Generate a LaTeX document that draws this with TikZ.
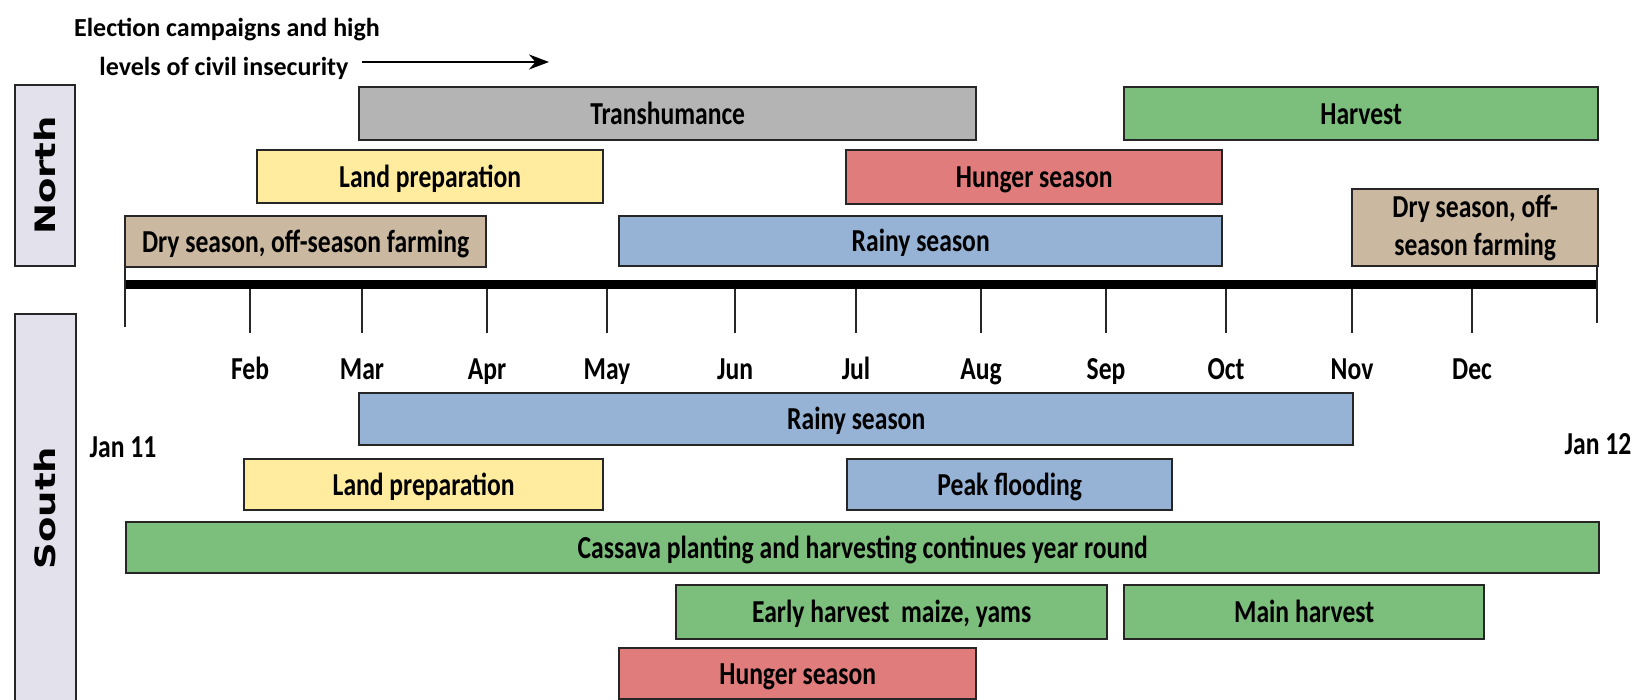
\documentclass[tikz,border=0pt]{standalone}
\usepackage{fontspec}
\setmainfont{Carlito}
\newfontfamily\regfont{DejaVu Sans}
\usetikzlibrary{arrows.meta}
\definecolor{cgray}{RGB}{180,180,180}
\definecolor{cgreen}{RGB}{124,190,124}
\definecolor{cyellow}{RGB}{255,236,158}
\definecolor{cred}{RGB}{224,124,124}
\definecolor{cblue}{RGB}{150,178,212}
\definecolor{ctan}{RGB}{202,184,160}
\definecolor{clav}{RGB}{226,225,236}
\newcommand\sq[1]{\scalebox{0.8}[1]{#1}}
\begin{document}
\begin{tikzpicture}[x=1pt,y=-1pt,
  bar/.style={draw=black!85, line width=2.4pt, rectangle, anchor=north west, inner sep=0pt,
    align=center, text height=21pt, text depth=0pt,
    font=\fontsize{32}{35}\selectfont\bfseries},
  bartwo/.style={draw=black!85, line width=2.4pt, rectangle, anchor=north west, inner sep=0pt,
    align=center, font=\fontsize{32}{38}\selectfont\bfseries},
  mon/.style={anchor=base, inner sep=0pt, font=\fontsize{32}{35}\selectfont\bfseries},
  tick/.style={line width=2pt, black!85},
  regbox/.style={draw=black!85, line width=2.4pt, fill=clav, inner sep=0pt,
    font=\fontsize{37}{37}\selectfont\regfont\bfseries},
  elect/.style={anchor=base, inner sep=0pt, font=\fontsize{26}{30}\selectfont\bfseries}
]
\useasboundingbox (0,0) rectangle (1634,700);

% region labels
\node[regbox, minimum width=60pt, minimum height=181pt] (north) at (45,175.5)
  {\rotatebox{90}{\scalebox{1}[0.76]{North}}};
\node[regbox, minimum width=61pt, minimum height=388pt] (southbox) at (45.5,508) {};
\node[inner sep=0pt, font=\fontsize{37}{37}\selectfont\regfont\bfseries] (south) at (45.5,508)
  {\rotatebox{90}{\scalebox{1}[0.76]{South}}};

% election note
\node[elect] (el1) at (227,37) {Election campaigns and high};
\node[elect] (el2) at (224,76) {levels of civil insecurity};
\coordinate (a1) at (362,62);
\coordinate (a2) at (549,62);
\draw[line width=2.4pt, -{Stealth[length=20pt,width=15pt]}] (a1) -- (a2);

% north bars
\node[bar, fill=cgray, minimum width=617pt, minimum height=53pt] (trans) at (358,86) {\sq{Transhumance}};
\node[bar, fill=cgreen, minimum width=474pt, minimum height=53pt] (harvN) at (1123,86) {\sq{Harvest}};
\node[bar, fill=cyellow, minimum width=346pt, minimum height=53pt] (landN) at (256,149) {\sq{Land preparation}};
\node[bar, fill=cred, minimum width=376pt, minimum height=54pt] (hungN) at (845,149) {\sq{Hunger season}};
\node[bar, fill=ctan, minimum width=361pt, minimum height=51pt] (dryNa) at (124,215) {\sq{Dry season, off-season farming}};
\node[bar, fill=cblue, minimum width=603pt, minimum height=50pt] (rainN) at (618,215) {\sq{Rainy season}};
\node[bartwo, fill=ctan, minimum width=246pt, minimum height=77pt] (dryNb) at (1351,188) {\sq{Dry season, off-}\\\sq{season farming}};

% axis
\coordinate (ax1) at (124,284.5);
\coordinate (ax2) at (1598,284.5);
\draw[line width=9pt, black] (ax1) -- (ax2);
\draw[tick] (125,266) -- (125,327);
\draw[tick] (1597,266) -- (1597,323);
\foreach \x/\m in {250/Feb,362/Mar,487/Apr,607/May,735/Jun,856/Jul,981/Aug,1106/Sep,1226/Oct,1352/Nov,1472/Dec}{
  \draw[tick] (\x,289) -- (\x,333);
  \node[mon] (m-\m) at (\x,380) {\sq{\m}};
}
\node[mon] (jan11) at (123,457) {\sq{Jan 11}};
\node[mon] (jan12) at (1598,455) {\sq{Jan 12}};

% south bars
\node[bar, fill=cblue, minimum width=994pt, minimum height=52pt] (rainS) at (358,392) {\sq{Rainy season}};
\node[bar, fill=cyellow, minimum width=359pt, minimum height=51pt] (landS) at (243,458) {\sq{Land preparation}};
\node[bar, fill=cblue, minimum width=325pt, minimum height=51pt] (flood) at (846,458) {\sq{Peak flooding}};
\node[bar, fill=cgreen, minimum width=1473pt, minimum height=51pt] (cass) at (125,521) {\sq{Cassava planting and harvesting continues year round}};
\node[bar, fill=cgreen, minimum width=431pt, minimum height=54pt] (early) at (675,584) {\sq{Early harvest\ \ maize, yams}};
\node[bar, fill=cgreen, minimum width=360pt, minimum height=54pt] (mainh) at (1123,584) {\sq{Main harvest}};
\node[bar, fill=cred, minimum width=357pt, minimum height=51pt] (hungS) at (618,647) {\sq{Hunger season}};
\end{tikzpicture}
\end{document}
